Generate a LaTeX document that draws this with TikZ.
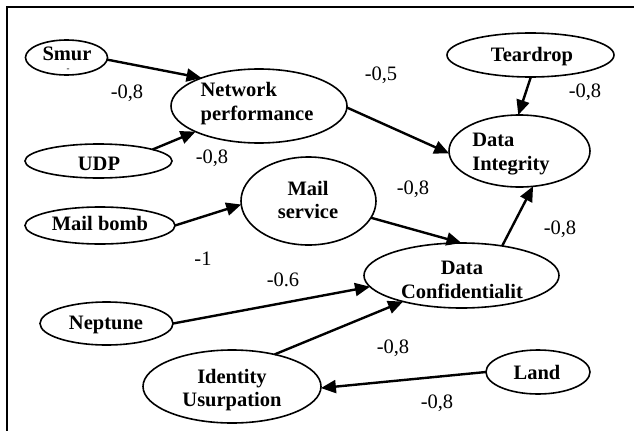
\documentclass[tikz,border=0pt]{standalone}
\usepackage{fontspec}
\setmainfont{Liberation Serif}
\usetikzlibrary{shapes.geometric,arrows.meta}
\tikzset{
  ell/.style={draw, ellipse, line width=1.6pt, inner sep=0pt, outer sep=0pt},
  ntext/.style={font=\fontsize{20.5}{23.5}\selectfont\bfseries, inner sep=0pt},
  wlab/.style={font=\fontsize{20.5}{23.5}\selectfont, inner sep=0pt, anchor=base},
  arr/.style={line width=2.4pt, -{Triangle[length=15pt,width=13pt]}},
}
\begin{document}
\begin{tikzpicture}[x=1pt,y=-1pt]
\useasboundingbox (0,0) rectangle (634,431);
% frame
\draw[line width=1.6pt] (634,7) -- (7,7) -- (7,431);
% ellipses
\node[ell, minimum width=82pt, minimum height=35pt] (smur) at (66.5,57.5) {};
\node[ell, minimum width=176pt, minimum height=74pt] (np) at (259,106) {};
\node[ell, minimum width=147pt, minimum height=34pt] (udp) at (98.5,161) {};
\node[ell, minimum width=150pt, minimum height=37pt] (mb) at (100,225.5) {};
\node[ell, minimum width=135pt, minimum height=88pt] (ms) at (308.5,201) {};
\node[ell, minimum width=167pt, minimum height=44pt] (td) at (530.5,55) {};
\node[ell, minimum width=141pt, minimum height=72pt] (di) at (519.5,151) {};
\node[ell, minimum width=195pt, minimum height=65pt] (dc) at (461.5,275.5) {};
\node[ell, minimum width=133pt, minimum height=43pt] (nep) at (106.5,323.5) {};
\node[ell, minimum width=178pt, minimum height=73pt] (id) at (232,386.5) {};
\node[ell, minimum width=104pt, minimum height=44pt] (land) at (538,372) {};
% node texts
\node[ntext] (smurT) at (67,54) {Smur};
\node[font=\fontsize{9}{10}\selectfont, inner sep=0pt] (smurD) at (68,70) {-};
\node[ntext, align=left] (npT) at (257,103.5) {Network\\performance};
\node[ntext] (udpT) at (99,164) {UDP};
\node[ntext] (mbT) at (100,223) {Mail bomb};
\node[ntext, align=center] (msT) at (308,200) {Mail\\service};
\node[ntext] (tdT) at (532,57) {Teardrop};
\node[ntext, align=left] (diT) at (511,154) {Data\\Integrity};
\node[ntext, align=center] (dcT) at (462,280) {Data\\Confidentialit};
\node[ntext] (nepT) at (106,325) {Neptune};
\node[ntext, align=center] (idT) at (232,390) {Identity\\Usurpation};
\node[ntext] (landT) at (537,372) {Land};
% connectors
\draw[arr] (smur.-3) -- (np.154);
\draw[arr] (udp.12) -- (np.202);
\draw[arr] (np.-1) -- (di.182);
\draw[arr] (td.-89) -- (di.92);
\draw[arr] (mb.0) -- (ms.183);
\draw[arr] (ms.-15) -- (dc.90);
\draw[arr] (dc.36) -- (di.-69);
\draw[arr] (nep.0) -- (dc.187);
\draw[arr] (id.37) -- (dc.204);
\draw[arr] (land.180) -- (id.-1);
% weights
\node[wlab] (w1) at (127,98) {-0,8};
\node[wlab] (w2) at (212,163) {-0,8};
\node[wlab] (w3) at (381,80) {-0,5};
\node[wlab] (w4) at (585,97) {-0,8};
\node[wlab] (w5) at (413,194) {-0,8};
\node[wlab] (w6) at (560,234) {-0,8};
\node[wlab] (w7) at (203,265) {-1};
\node[wlab] (w8) at (283,286) {-0.6};
\node[wlab] (w9) at (393,353) {-0,8};
\node[wlab] (w10) at (437,408) {-0,8};
\end{tikzpicture}
\end{document}
